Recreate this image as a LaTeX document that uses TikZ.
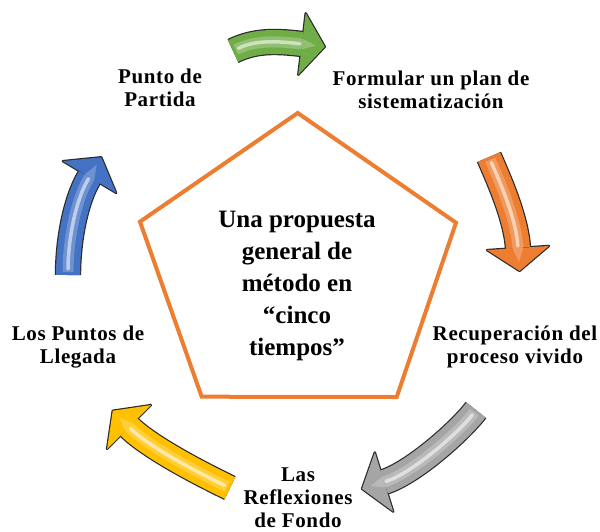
\documentclass[tikz,border=0pt]{standalone}
\usepackage{fontspec}
\setmainfont{Liberation Serif}
\newfontfamily\lblfont[LetterSpace=3.0]{Liberation Serif}
\usetikzlibrary{calc}
\definecolor{pgreen}{HTML}{70AD47}
\definecolor{porange}{HTML}{ED7D31}
\definecolor{pgray}{HTML}{A5A5A5}
\definecolor{pyellow}{HTML}{FFC000}
\definecolor{pblue}{HTML}{4472C4}
\definecolor{aline}{HTML}{2B2B2B}
\tikzset{
  lbl/.style={font=\lblfont\bfseries\fontsize{21}{23}\selectfont, align=center, inner sep=0pt, anchor=north},
  ctr/.style={font=\bfseries\fontsize{25}{32}\selectfont, align=center, inner sep=0pt, anchor=north},
  pent/.style={draw=porange, line width=4pt, line join=miter},
}
\newcommand{\blockarrow}[6]{%
  \coordinate (#1s) at (#2);
  \coordinate (#1a) at (#3);
  \coordinate (#1b) at (#4);
  \coordinate (#1e) at (#5);
  \coordinate (#1tip) at ($(#1e)!23pt!180:(#1b)$);
  \coordinate (#1l) at ($(#1e)!31pt!90:(#1b)$);
  \coordinate (#1r) at ($(#1e)!31pt!-90:(#1b)$);
  \coordinate (#1htip) at ($(#1e)!14pt!180:(#1b)$);
  \coordinate (#1hl) at ($(#1e)!5.5pt!90:(#1b)$);
  \coordinate (#1hr) at ($(#1e)!5.5pt!-90:(#1b)$);
  \filldraw[draw=aline, fill=aline, line width=2.4pt, line join=round] (#1tip) -- (#1l) -- (#1r) -- cycle;
  \draw[aline, line width=26.4pt] (#1s) .. controls (#1a) and (#1b) .. (#1e);
  \draw[#6, line width=24pt] (#1s) .. controls (#1a) and (#1b) .. (#1e);
  \fill[#6] (#1tip) -- (#1l) -- (#1r) -- cycle;
  \draw[#6!78!white, line width=11pt, shorten <=3pt] (#1s) .. controls (#1a) and (#1b) .. (#1e);
  \fill[#6!78!white] (#1htip) -- (#1hl) -- (#1hr) -- cycle;
  \draw[#6!35!white, line width=3.5pt, line cap=round, shorten <=6pt, shorten >=2pt] (#1s) .. controls (#1a) and (#1b) .. (#1e);
}
\begin{document}
\begin{tikzpicture}[x=1pt,y=-1pt]
\useasboundingbox (0,0) rectangle (600,531);
% arrows
\blockarrow{g}{233,51}{255,40}{277,41}{302,44}{pgreen}
\blockarrow{o}{489,157}{499,180}{516,218}{518,248}{porange}
\blockarrow{y}{476,410}{461,430}{413,473}{384,482}{pgray}
\blockarrow{w}{230,488}{205,476}{150,448}{129,427}{pyellow}
\blockarrow{b}{68,275}{68,245}{74,203}{89.5,177}{pblue}
% pentagon
\coordinate (p1) at (297.7,113);
\coordinate (p2) at (456,222.7);
\coordinate (p3) at (396.7,397);
\coordinate (p4) at (201.7,396.7);
\coordinate (p5) at (140,221.7);
\draw[pent] (p1) -- (p2) -- (p3) -- (p4) -- (p5) -- cycle;
% texts
\node[ctr] (center) at (297,210.5) {Una propuesta\\general de\\método en\\“cinco\\tiempos”};
\node[lbl] (t1) at (160,68.8) {Punto de\\Partida};
\node[lbl] (t2) at (431,70.8) {Formular un plan de\\sistematización};
\node[lbl] (t3) at (515,325.5) {Recuperación del\\proceso vivido};
\node[lbl] (t4) at (78,325.8) {Los Puntos de\\Llegada};
\node[lbl] (t5) at (298,467.5) {Las\\Reflexiones\\de Fondo};
\end{tikzpicture}
\end{document}
